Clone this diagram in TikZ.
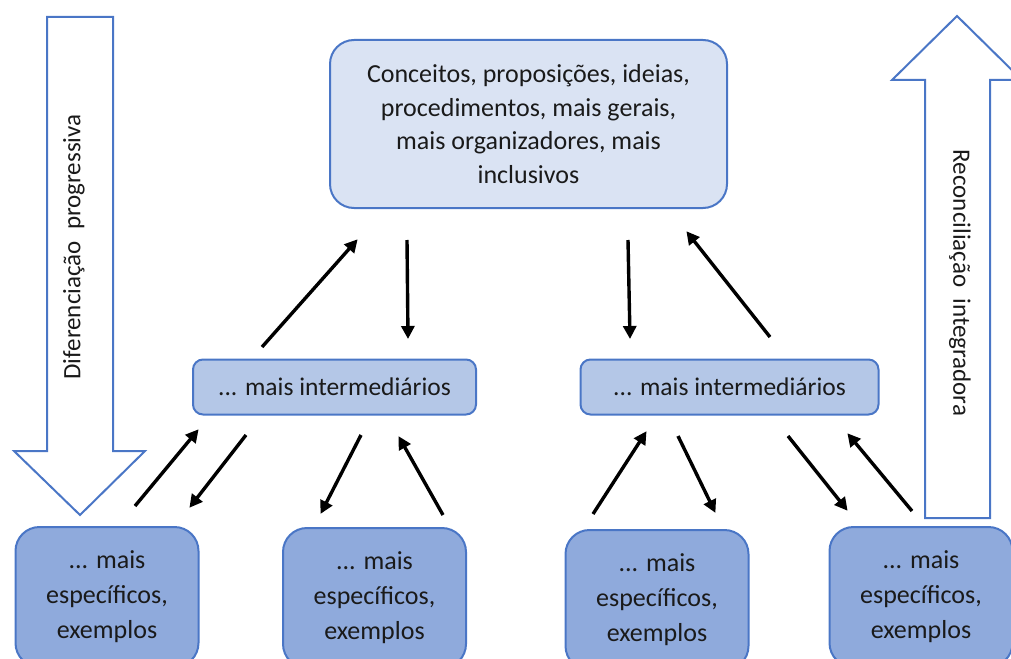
\documentclass[tikz,border=0pt]{standalone}
\usepackage{fontspec}
\setmainfont{Carlito}
\usetikzlibrary{arrows.meta}
\definecolor{bord}{HTML}{4A76C6}
\definecolor{topfill}{HTML}{DAE3F3}
\definecolor{midfill}{HTML}{B4C7E7}
\definecolor{botfill}{HTML}{8FAADC}
\definecolor{txt}{HTML}{1A1A1A}
\begin{document}
\begin{tikzpicture}[x=1pt,y=-1pt,
  base/.style={draw=bord, line width=2pt, align=center, text=txt, inner sep=0pt},
  topbox/.style={base, fill=topfill, rounded corners=24pt, minimum width=397pt, minimum height=168pt, font=\fontsize{26}{33.5}\selectfont},
  midbox/.style={base, fill=midfill, rounded corners=10pt, minimum height=55pt, font=\fontsize{25.5}{33.5}\selectfont},
  botbox/.style={base, fill=botfill, rounded corners=24pt, minimum width=183pt, minimum height=140pt, font=\fontsize{26}{35}\selectfont},
  bigarrow/.style={draw=bord, line width=2pt, fill=white, line join=miter},
  biglabel/.style={text=txt, font=\fontsize{25}{28}\selectfont, inner sep=0pt},
  conn/.style={line width=3.4pt, -{Triangle[length=13pt,width=13pt]}, shorten >=-1pt}
]
\useasboundingbox (0,0) rectangle (1011,658);
\clip (0,0) rectangle (1011,658);

% big arrows
\draw[bigarrow] (47,17) -- (113,17) -- (113,451) -- (145,451) -- (80,515) -- (14,451) -- (47,451) -- cycle;
\node[biglabel, rotate=90] (dif) at (74,247) {Diferenciação\hspace{0.45em}progressiva};
\draw[bigarrow] (925,518) -- (925,80) -- (892,80) -- (957,16) -- (1022,80) -- (990,80) -- (990,518) -- cycle;
\node[biglabel, rotate=-90] (rec) at (960,283) {Reconciliação\hspace{0.45em}integradora};

% boxes
\node[topbox] (top) at (528.5,124) {Conceitos, proposições, ideias,\\procedimentos, mais gerais,\\mais organizadores, mais\\inclusivos};
\node[midbox, minimum width=283pt] (m1) at (334.5,387) {... mais intermediários};
\node[midbox, minimum width=298pt] (m2) at (729.5,387) {... mais intermediários};
\node[botbox] (b1) at (107,597) {... mais\\específicos,\\exemplos};
\node[botbox] (b2) at (374.5,598) {... mais\\específicos,\\exemplos};
\node[botbox] (b3) at (657,600) {... mais\\específicos,\\exemplos};
\node[botbox] (b4) at (921,597) {... mais\\específicos,\\exemplos};

% connector end points
\coordinate (a1s) at (262,347); \coordinate (a1e) at (357,240);
\coordinate (a2s) at (407,240); \coordinate (a2e) at (408,338);
\coordinate (a3s) at (628,240); \coordinate (a3e) at (630,338);
\coordinate (a4s) at (770,337); \coordinate (a4e) at (687,232);
\coordinate (a5s) at (135,506); \coordinate (a5e) at (198,430);
\coordinate (a6s) at (246,435); \coordinate (a6e) at (190,507);
\coordinate (a7s) at (361,435); \coordinate (a7e) at (321,513);
\coordinate (a8s) at (443,515); \coordinate (a8e) at (399,437);
\coordinate (a9s) at (593,514); \coordinate (a9e) at (646,432);
\coordinate (a10s) at (678,436); \coordinate (a10e) at (715,512);
\coordinate (a11s) at (788,436); \coordinate (a11e) at (847,510);
\coordinate (a12s) at (912,511); \coordinate (a12e) at (848,434);

\foreach \i in {1,...,12} \draw[conn] (a\i s) -- (a\i e);
\end{tikzpicture}
\end{document}
